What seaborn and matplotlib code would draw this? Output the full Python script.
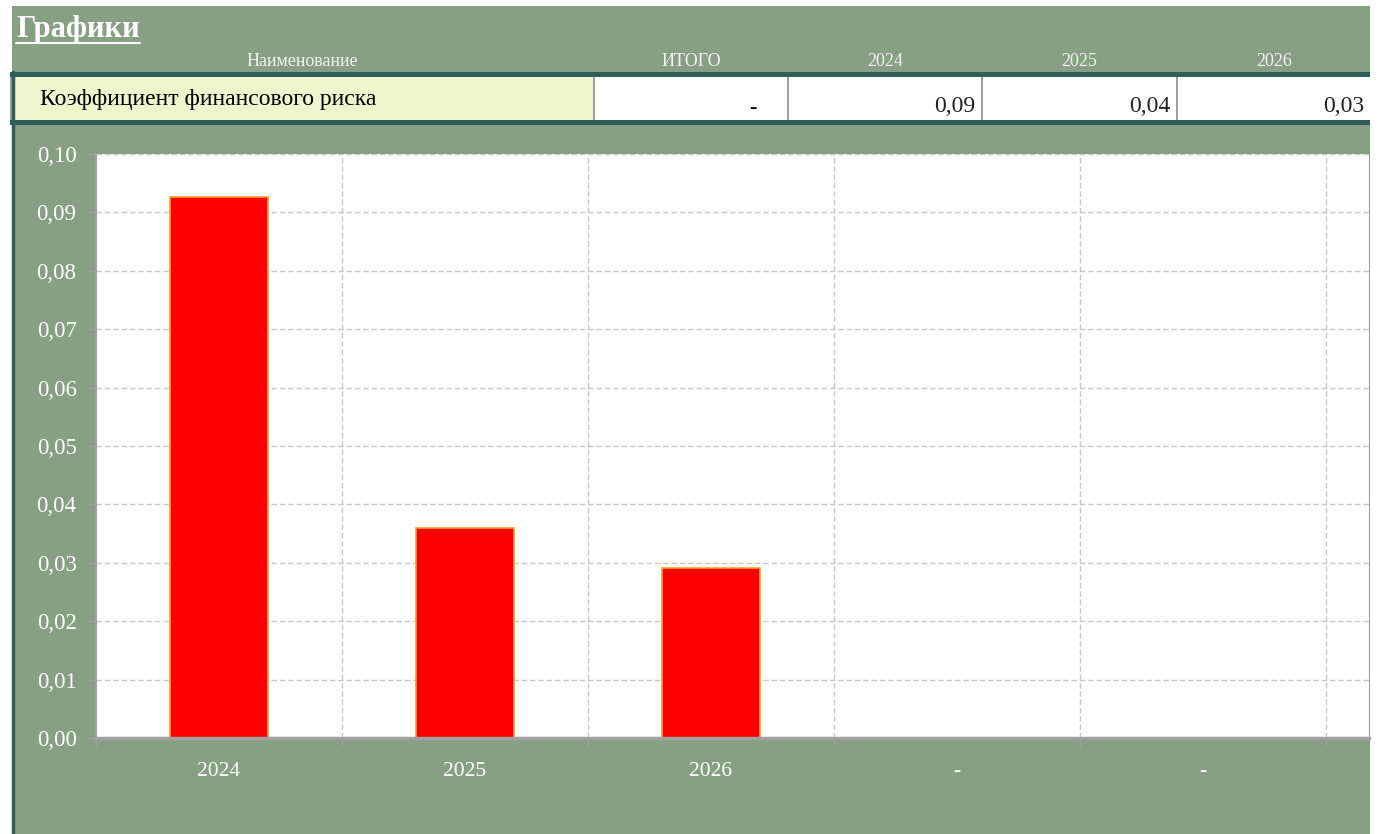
import numpy as np
import pandas as pd
import matplotlib
matplotlib.use("Agg")
import matplotlib.pyplot as plt
import seaborn as sns
from matplotlib.patches import Rectangle
from matplotlib.lines import Line2D
from matplotlib.ticker import FuncFormatter, MultipleLocator

# ---- data ----
title = "Графики"
row_label = "Коэффициент финансового риска"
header_name = "Наименование"
header_cols = ["ИТОГО", "2024", "2025", "2026"]
total_value = "-"
categories = ["2024", "2025", "2026", "c4", "c5"]
tick_labels = ["2024", "2025", "2026", "-", "-"]
values = [0.0926, 0.0360, 0.0291, np.nan, np.nan]

# ---- style ----
sns.set_style("white")
plt.rcParams["font.family"] = ["Liberation Serif", "DejaVu Serif"]

GREEN = "#87A083"
TEAL = "#2F5D57"
YELLOW = "#EEF5CC"
GRID = "#C8C8C8"
AXIS = "#A0A0A0"

W, H = 1379, 834
fig = plt.figure(figsize=(W / 100, H / 100), dpi=100, facecolor="white")


def rect(x0, y0, x1, y1, color, z=0):
    fig.add_artist(Rectangle((x0 / W, 1 - y1 / H), (x1 - x0) / W, (y1 - y0) / H,
                             transform=fig.transFigure, facecolor=color,
                             edgecolor="none", zorder=z))


def ftext(x, y, s, **kw):
    fig.text(x / W, 1 - y / H, s, **kw)


# background
rect(12, 6, 1370, 834, GREEN, z=-10)

# title
ftext(16, 29, title, fontsize=22, fontweight="bold", color="white",
      va="center", ha="left")
fig.add_artist(Line2D([16 / W, 140 / W], [1 - 42.5 / H, 1 - 42.5 / H],
                      transform=fig.transFigure, color="white", lw=1.5))

# header
col_bounds = [(12, 593), (595, 787), (789, 981), (983, 1176), (1178, 1370)]
ftext((col_bounds[0][0] + col_bounds[0][1]) / 2, 62, header_name, fontsize=13,
      color="#F2F2F2", ha="center", va="center")
for (x0, x1), lab in zip(col_bounds[1:], header_cols):
    ftext((x0 + x1) / 2, 62, lab, fontsize=13, color="#F2F2F2",
          ha="center", va="center")

# table row
rect(10, 72, 1370, 77, TEAL, z=1)
rect(10, 120, 1370, 125, TEAL, z=1)
rect(10, 77, 1370, 120, "#A0A0A0", z=0)
rect(12, 77, 593, 120, YELLOW, z=0.5)
for x0, x1 in col_bounds[1:]:
    rect(x0, 77, x1, 120, "white", z=0.5)
ftext(40, 100, row_label, fontsize=17, color="black", ha="left", va="center")

cell_vals = [total_value] + [f"{v:.2f}".replace(".", ",") for v in values[:3]]
for (x0, x1), s in zip(col_bounds[1:], cell_vals):
    if s == "-":
        ftext(x1 - 30, 108, s, fontsize=16, color="black", ha="right",
              va="center", fontweight="bold")
    else:
        ftext(x1 - 6, 106, s, fontsize=17, color="#222222", ha="right",
              va="center")

# left border line
fig.add_artist(Line2D([12.5 / W, 12.5 / W], [0, 1 - 72 / H],
                      transform=fig.transFigure, color=TEAL, lw=2.5))

# ---- chart ----
ax = fig.add_axes([96 / W, 1 - 738 / H, (1369 - 96) / W, (738 - 154) / H])
ax.set_facecolor("white")

df = pd.DataFrame({"cat": categories, "val": values}).dropna()
sns.barplot(data=df, x="cat", y="val", order=categories, width=0.4,
            color="#FF0000", edgecolor="#F0A030", linewidth=1.2,
            saturation=1, ax=ax, zorder=3)

ax.set_xlim(-0.5, 4.675)
ax.set_ylim(0, 0.10)
ax.yaxis.set_major_locator(MultipleLocator(0.01))
ax.yaxis.set_major_formatter(FuncFormatter(lambda v, p: f"{v:.2f}".replace(".", ",")))
ax.set_xticks(range(len(categories)))
ax.set_xticklabels(tick_labels)
ax.set_xticks([i - 0.5 for i in range(len(categories) + 1)], minor=True)
ax.set_xlabel("")
ax.set_ylabel("")

ax.tick_params(axis="x", which="major", length=0, pad=17, labelcolor="white",
               labelsize=15.5)
ax.tick_params(axis="x", which="minor", length=6, color=AXIS, width=1,
               direction="out", bottom=True)
ax.tick_params(axis="y", length=7, color=AXIS, width=1, direction="out",
               labelcolor="white", labelsize=16.5, pad=7, left=True)

ax.yaxis.grid(True, linestyle=(0, (4, 2)), color=GRID, lw=1, zorder=0)
for x in [i + 0.5 for i in range(len(categories))]:
    ax.axvline(x, linestyle=(0, (4, 2)), color=GRID, lw=1, zorder=0)
ax.set_axisbelow(True)

for s in ["top", "right"]:
    ax.spines[s].set_visible(False)
ax.spines["left"].set_color(AXIS)
ax.spines["left"].set_linewidth(1.5)
ax.spines["bottom"].set_color(AXIS)
ax.spines["bottom"].set_linewidth(2.5)
ax.spines["bottom"].set_zorder(5)

fig.savefig("out.png", dpi=100, facecolor="white")
